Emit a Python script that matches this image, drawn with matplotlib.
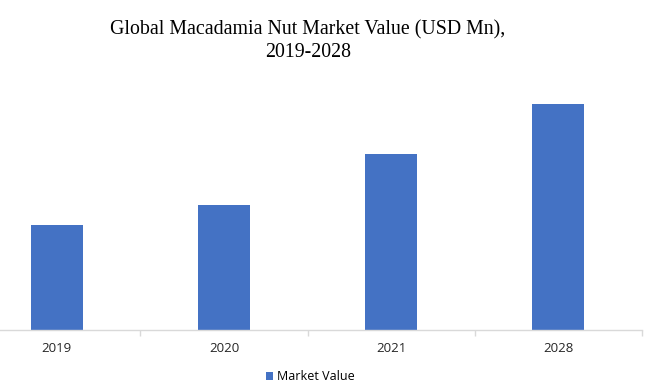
import matplotlib
matplotlib.use("Agg")
import matplotlib.pyplot as plt
from matplotlib.ticker import FixedLocator

categories = ["2019", "2020", "2021", "2028"]
values = [105, 125, 176, 226]
series_name = "Market Value"
title = "Global Macadamia Nut Market Value (USD Mn),\n2019-2028"

W, H = 661, 385
fig = plt.figure(figsize=(W / 100, H / 100), dpi=100)
ax = fig.add_axes([0 / W, (H - 330) / H, 642 / W, (330 - 90) / H])

x = list(range(len(categories)))
ax.bar(x, values, width=0.31, color="#4472C4", label=series_name, zorder=2)
ax.set_xlim(-0.34, 3.5)
ax.set_ylim(0, 240)

for s in ["top", "right", "left"]:
    ax.spines[s].set_visible(False)
ax.spines["bottom"].set_color("#d9d9d9")
ax.spines["bottom"].set_linewidth(1.0)
ax.set_yticks([])
ax.set_xticks(x)
ax.set_xticklabels(categories, fontsize=9.5, family="Open Sans", color="#262626")
ax.tick_params(axis="x", which="major", length=0, pad=9)
ax.xaxis.set_minor_locator(FixedLocator([0.5, 1.5, 2.5, 3.5]))
ax.tick_params(axis="x", which="minor", length=4, color="#d9d9d9", width=1.0)

fig.text(308 / W, 1 - 41 / H, title, ha="center", va="center",
         fontsize=14.3, family="Liberation Serif", linespacing=1.2)

fig.legend(loc="center", bbox_to_anchor=(310 / W, 1 - 377 / H), frameon=False,
           prop={"family": "Open Sans", "size": 9}, handlelength=0.6,
           handleheight=0.6, handletextpad=0.3)

fig.savefig("out.png", dpi=100, facecolor="white")
